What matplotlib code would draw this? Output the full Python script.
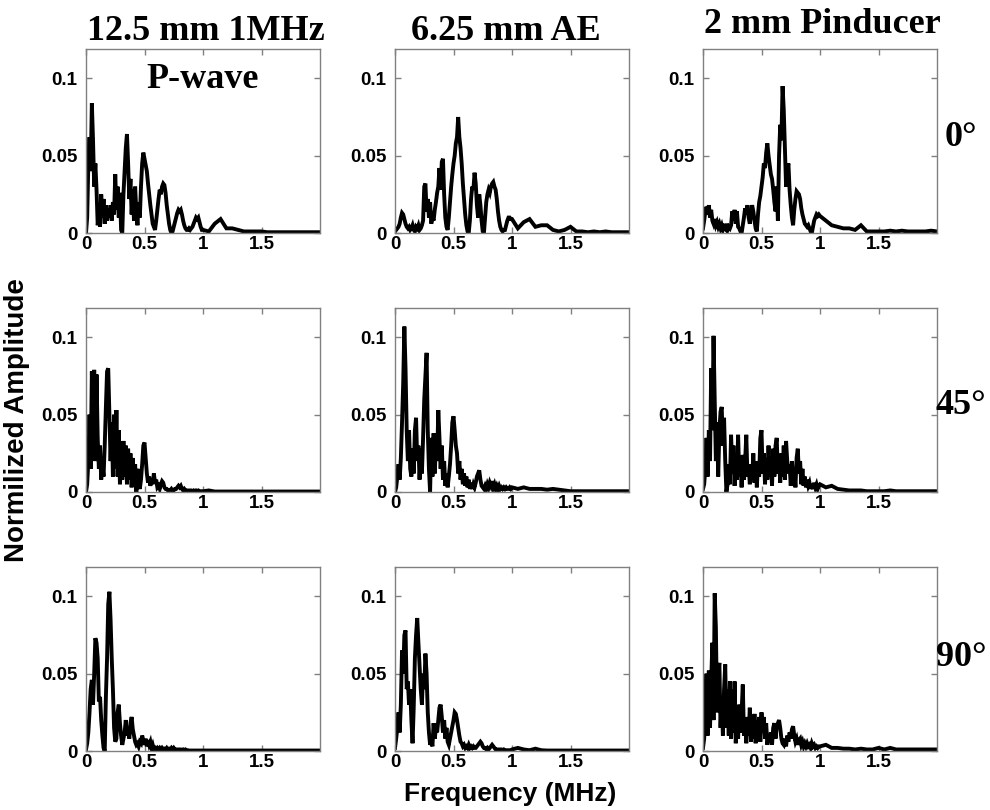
import matplotlib
matplotlib.use("Agg")
import matplotlib.pyplot as plt
import numpy as np

# frequency grid (MHz): fine steps up to 1 MHz, coarse tail up to 2 MHz
freq = np.round(np.concatenate([np.arange(0, 1.0, 0.01), np.arange(1.0, 2.001, 0.05)]), 3)

# amplitudes, in units of 1e-3
p12_0 = [0, 10, 45, 62, 40, 84, 60, 30, 45, 28,
         5, 12, 4, 25, 10, 22, 6, 18, 8, 16,
         10, 18, 8, 20, 12, 38, 15, 30, 10, 26,
         2, 0, 25, 40, 55, 64, 45, 22, 35, 12,
         28, 8, 30, 14, 5, 20, 10, 30, 45, 52,
         48, 44, 40, 32, 25, 18, 12, 6, 4, 2,
         8, 15, 22, 28, 25, 30, 32, 31, 26, 18,
         12, 6, 2, 0, 1, 4, 7, 10, 13, 15,
         14, 15, 12, 8, 5, 3, 2, 2, 3, 2,
         3, 4, 6, 8, 10, 9, 10, 7, 4, 2,
         2, 1, 6, 9, 3, 3, 2, 1, 1, 1, 1, 0.5, 0.5, 0.5, 0.5, 0.5, 0.5, 0.5, 0.5, 0.5, 0.5]

p6_0 = [1, 2, 3, 4, 6, 10, 13, 12, 9, 6,
        4, 3, 4, 2, 3, 5, 2, 1, 4, 3,
        5, 2, 3, 5, 8, 30, 32, 14, 22, 10,
        20, 6, 10, 8, 15, 20, 26, 30, 42, 28,
        46, 48, 25, 10, 4, 2, 10, 20, 30, 38,
        45, 50, 58, 62, 75, 62, 55, 45, 32, 22,
        12, 5, 1, 0, 8, 22, 30, 28, 39, 32,
        18, 10, 25, 18, 8, 1, 0, 10, 20, 25,
        28, 26, 30, 32, 33, 30, 28, 22, 14, 8,
        4, 2, 1, 2, 2, 5, 8, 10, 10, 9,
        9, 3, 7, 9, 4, 5, 5, 2, 1, 2, 4, 1, 1, 0.5, 1, 0.5, 1, 0.5, 0.5, 0.5, 0.5]

pp_0 = [3, 8, 14, 17, 12, 18, 10, 15, 8, 6,
        9, 5, 7, 4, 6, 3, 5, 2, 4, 3,
        6, 2, 4, 3, 5, 14, 8, 15, 6, 14,
        4, 3, 1, 0, 5, 10, 16, 12, 18, 10,
        6, 12, 18, 14, 8, 3, 1, 12, 20, 24,
        30, 36, 45, 42, 52, 58, 50, 44, 38, 35,
        28, 20, 14, 30, 8, 50, 70, 60, 95, 80,
        55, 30, 40, 45, 28, 18, 10, 5, 15, 22,
        27, 26, 25, 22, 16, 12, 9, 6, 5, 4,
        5, 3, 1, 0, 4, 8, 10, 12, 11, 12,
        11, 8, 5, 4, 3, 3, 2, 5, 1, 1, 1, 1, 1.5, 1, 1.5, 1, 1, 1, 1, 1.5, 1]

p12_45 = [0, 5, 20, 50, 15, 78, 30, 79, 20, 76,
          35, 15, 30, 8, 18, 10, 30, 55, 78, 80,
          50, 20, 45, 10, 50, 15, 53, 10, 40, 5,
          20, 8, 33, 10, 30, 5, 28, 8, 25, 3,
          22, 6, 18, 0, 15, 5, 2, 8, 18, 30,
          32, 22, 12, 6, 10, 4, 8, 5, 12, 6,
          8, 3, 4, 2, 5, 7, 6, 3, 2, 2,
          1, 1, 1, 2, 1, 1, 2, 2, 3, 4,
          3, 4, 2, 1, 2, 1, 1, 1, 1, 1,
          1, 0.5, 1, 0.5, 1, 0.5, 1, 0.5, 0.5, 0.5,
          0.5, 1, 0.3, 0.3, 0.3, 0.3, 0.3, 0.3, 0.3, 0.3, 0.3, 0.3, 0.3, 0.3, 0.3, 0.3, 0.3, 0.3, 0.3, 0.3, 0.3]

p6_45 = [0, 3, 10, 18, 8, 22, 45, 70, 107, 80,
         40, 20, 40, 15, 10, 28, 12, 40, 48, 20,
         30, 8, 28, 12, 35, 60, 75, 90, 40, 15,
         0, 35, 10, 38, 12, 32, 20, 53, 35, 15,
         30, 8, 20, 4, 12, 3, 10, 18, 30, 45,
         49, 40, 30, 25, 12, 20, 8, 15, 5, 12,
         4, 10, 3, 8, 2, 6, 2, 5, 3, 6,
         10, 12, 14, 8, 4, 3, 2, 4, 2, 5,
         3, 6, 4, 7, 3, 5, 2, 4, 2, 4,
         2, 3, 2, 3, 2, 3, 2, 2, 3, 2,
         3, 2, 3, 2, 2, 2, 1.5, 2, 1.5, 1, 0.5, 0.5, 0.5, 0.5, 0.5, 0.5, 0.5, 0.5, 0.5, 0.5, 0.5]

pp_45 = [2, 5, 15, 35, 10, 40, 20, 80, 40, 101,
         60, 20, 45, 10, 40, 52, 55, 30, 48, 20,
         0, 5, 18, 5, 37, 12, 30, 4, 25, 8,
         37, 10, 22, 3, 24, 8, 20, 37, 10, 18,
         5, 15, 8, 25, 6, 20, 3, 18, 10, 35,
         40, 12, 25, 5, 22, 8, 30, 10, 20, 4,
         28, 10, 30, 35, 12, 22, 6, 25, 10, 30,
         8, 33, 20, 12, 18, 4, 20, 8, 15, 3,
         22, 28, 12, 20, 5, 15, 4, 10, 3, 8,
         4, 6, 2, 5, 2, 6, 3, 5, 2, 4,
         5, 3, 4, 2, 1.5, 1, 1, 1, 0.5, 0.5, 0.5, 0.5, 1, 0.5, 0.5, 0.5, 0.5, 0.5, 0.5, 0.5, 0.5]

p12_90 = [1, 5, 12, 25, 40, 46, 30, 50, 73, 70,
          60, 32, 35, 20, 10, 2, 0, 35, 60, 95,
          103, 85, 60, 40, 15, 6, 8, 25, 30, 18,
          10, 4, 8, 12, 20, 10, 15, 8, 18, 22,
          14, 10, 6, 4, 5, 3, 6, 5, 10, 7,
          4, 8, 3, 7, 4, 6, 2, 4, 1, 2,
          1, 2, 1, 2, 1, 2, 1, 1.5, 1, 2,
          1, 1.5, 1, 2, 1, 2, 1, 1, 1, 1,
          1, 1, 0.5, 1, 0.5, 1, 0.5, 0.5, 0.3, 0.3,
          0.3, 0.3, 0.3, 0.3, 0.3, 0.3, 0.3, 0.3, 0.3, 0.3,
          0.3, 0.3, 0.3, 0.3, 0.3, 0.3, 0.3, 0.3, 0.3, 0.3, 0.3, 0.3, 0.3, 0.3, 0.3, 0.3, 0.3, 0.3, 0.3, 0.3, 0.3]

p6_90 = [2, 8, 15, 25, 12, 30, 65, 50, 75, 78,
         40, 45, 30, 40, 20, 5, 28, 60, 75, 86,
         70, 55, 40, 30, 50, 40, 63, 50, 25, 12,
         4, 6, 3, 18, 8, 15, 12, 20, 28, 30,
         22, 12, 20, 8, 15, 6, 4, 8, 12, 16,
         20, 25, 24, 20, 15, 10, 6, 5, 3, 4,
         2, 3, 2, 4, 2, 3, 2, 3, 2, 2,
         3, 4, 5, 6, 5, 3, 2, 2, 1, 2,
         1, 2, 3, 4, 3, 2, 1, 1, 1, 1,
         1, 1, 0.5, 1, 0.5, 0.5, 0.5, 0.5, 0.5, 0.5,
         1, 2, 1, 0.5, 1.5, 0.5, 0.3, 0.3, 0.3, 0.3, 0.3, 0.3, 0.3, 0.3, 0.3, 0.3, 0.3, 0.3, 0.3, 0.3, 0.3]

pp_90 = [2, 8, 30, 50, 10, 52, 15, 45, 70, 20,
         102, 80, 25, 50, 57, 15, 35, 10, 40, 56,
         15, 40, 10, 45, 8, 40, 12, 45, 5, 20,
         8, 30, 12, 25, 43, 10, 20, 5, 22, 10,
         28, 6, 20, 8, 24, 5, 20, 10, 22, 6,
         25, 12, 22, 8, 18, 4, 10, 6, 12, 4,
         15, 18, 8, 16, 18, 20, 15, 8, 5, 4,
         8, 3, 10, 6, 12, 8, 14, 16, 10, 6,
         8, 4, 7, 8, 4, 6, 3, 5, 3, 5,
         3, 4, 2, 5, 3, 4, 2, 3, 2, 3,
         3, 4, 2, 2, 1.5, 1.5, 1, 1.5, 1, 1, 2, 1, 2, 1, 1, 1, 1, 1, 1, 1, 1]

spectra = [[p12_0, p6_0, pp_0],
           [p12_45, p6_45, pp_45],
           [p12_90, p6_90, pp_90]]

col_titles = ["12.5 mm 1MHz", "6.25 mm AE", "2 mm Pinducer"]
row_labels = ["0°", "45°", "90°"]

fig = plt.figure(figsize=(9.9, 8.1), dpi=100)
W, H = 990.0, 810.0

col_left = [86, 395, 703]      # pixel x of the left spine
row_base = [233, 492, 751]     # pixel y of the zero line
ax_w, ax_h = 234, 184

tick_font = dict(family="Liberation Sans", weight="bold", size=13.5)
serif = dict(family="Liberation Serif", weight="bold", size=26)

for r in range(3):
    for c in range(3):
        ax = fig.add_axes([col_left[c] / W, 1 - row_base[r] / H, ax_w / W, ax_h / H])
        amp = np.array(spectra[r][c]) / 1000.0
        ax.plot(freq, amp, color="black", linewidth=2.8, solid_joinstyle="miter")
        ax.set_xlim(0, 2)
        ax.set_ylim(0, 0.119)
        ax.set_xticks([0, 0.5, 1, 1.5])
        ax.set_xticklabels(["0", "0.5", "1", "1.5"], fontdict=tick_font)
        ax.set_yticks([0, 0.05, 0.1])
        ax.set_yticklabels(["0", "0.05", "0.1"], fontdict=tick_font)
        ax.tick_params(axis="y", pad=6)
        ax.tick_params(axis="x", pad=2)
        ax.tick_params(direction="in", top=True, right=True, length=4,
                       width=1, color="#808080")
        for s in ax.spines.values():
            s.set_color("#808080")
            s.set_linewidth(1)

# column titles
fig.text(206 / W, 1 - 40 / H, col_titles[0], ha="center", va="baseline", **serif)
fig.text(506 / W, 1 - 40 / H, col_titles[1], ha="center", va="baseline", **serif)
fig.text(822 / W, 1 - 33 / H, col_titles[2], ha="center", va="baseline", **serif)
fig.text(203 / W, 1 - 88 / H, "P-wave", ha="center", va="baseline", **serif)

# angle labels on the right
for lab, y in zip(row_labels, [138, 406, 657]):
    fig.text(961 / W, 1 - y / H, lab, ha="center", va="center", **serif)

fig.text(17 / W, 1 - 420 / H, "Normilized Amplitude", rotation=90, ha="center", va="center",
         family="Liberation Sans", weight="bold", size=20)
fig.text(510 / W, 1 - 794 / H, "Frequency (MHz)", ha="center", va="center",
         family="Liberation Sans", weight="bold", size=19)

fig.savefig("out.png", dpi=100)
